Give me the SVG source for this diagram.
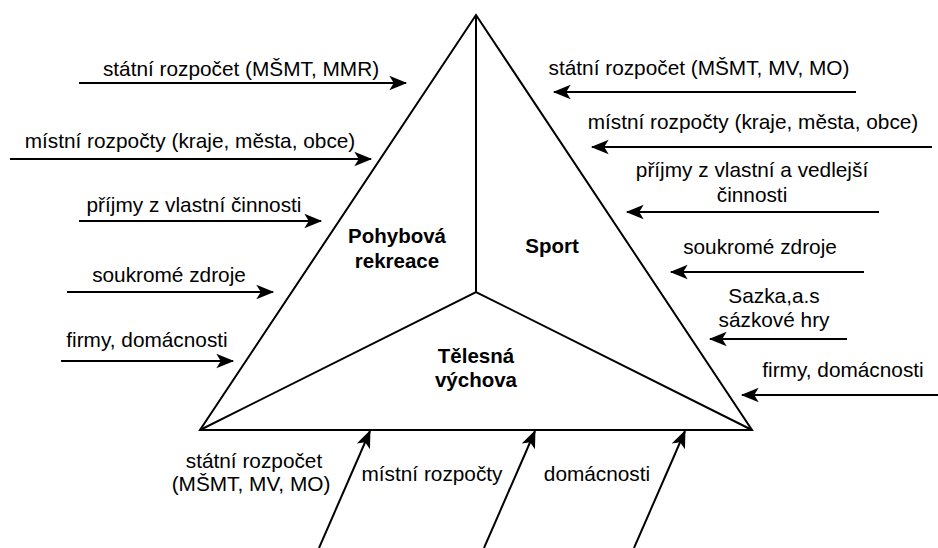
<svg xmlns="http://www.w3.org/2000/svg" width="938" height="548" viewBox="0 0 938 548">
<style>
.t{font-family:"Liberation Sans",Arial,Helvetica,sans-serif;font-size:20.8px;fill:#000;text-anchor:middle}
.b{font-weight:bold;font-size:20.5px}
.ln{stroke:#000;stroke-width:2;fill:none}
.ar{stroke:#000;stroke-width:2;fill:none;marker-end:url(#ah)}
</style>
<defs>
<marker id="ah" markerUnits="userSpaceOnUse" markerWidth="20" markerHeight="20" viewBox="-16 -8 18 16" refX="0" refY="0" orient="auto">
<path d="M1,0 L-15,-6.5 L-11,0 L-15,6.5 Z" fill="#000" stroke="none"/>
</marker>
</defs>
<g id="triangle">
<path class="ln" d="M476,15 L752,430 L200,430 Z" stroke-linejoin="miter"/>
<path class="ln" d="M476,15 L476,292 M200,430 L476,292 L752,430"/>
</g>
<g id="node-pohybova">
<text class="t b" x="397" y="243">Pohybová</text>
<text class="t b" x="397" y="268">rekreace</text>
</g>
<g id="node-sport">
<text class="t b" x="552" y="253">Sport</text>
</g>
<g id="node-telesna">
<text class="t b" x="476" y="363">Tělesná</text>
<text class="t b" x="476" y="387">výchova</text>
</g>
<g id="connectors">
<line class="ar" x1="79" y1="83" x2="406" y2="83"/>
<line class="ar" x1="10" y1="159" x2="371" y2="159"/>
<line class="ar" x1="79" y1="221" x2="321" y2="221"/>
<line class="ar" x1="67" y1="292" x2="273" y2="292"/>
<line class="ar" x1="61" y1="361" x2="233" y2="361"/>
<line class="ar" x1="856" y1="92" x2="554" y2="92"/>
<line class="ar" x1="932" y1="147" x2="592" y2="147"/>
<line class="ar" x1="879" y1="212" x2="627" y2="212"/>
<line class="ar" x1="864" y1="272" x2="671" y2="272"/>
<line class="ar" x1="847" y1="339" x2="710" y2="339"/>
<line class="ar" x1="938" y1="395" x2="742" y2="395"/>
<line class="ar" x1="319" y1="548" x2="370" y2="431"/>
<line class="ar" x1="484" y1="548" x2="535" y2="431"/>
<line class="ar" x1="634" y1="548" x2="685" y2="431"/>
</g>
<g id="labels">
<text class="t" x="241" y="76">státní rozpočet (MŠMT, MMR)</text>
<text class="t" x="190" y="148">místní rozpočty (kraje, města, obce)</text>
<text class="t" x="194" y="212">příjmy z vlastní činnosti</text>
<text class="t" x="169" y="282">soukromé zdroje</text>
<text class="t" x="147" y="347">firmy, domácnosti</text>
<text class="t" x="699" y="75">státní rozpočet (MŠMT, MV, MO)</text>
<text class="t" x="753" y="129">místní rozpočty (kraje, města, obce)</text>
<text class="t" x="752" y="177">příjmy z vlastní a vedlejší</text>
<text class="t" x="752" y="202">činnosti</text>
<text class="t" x="760" y="254">soukromé zdroje</text>
<text class="t" x="774" y="303">Sazka,a.s</text>
<text class="t" x="774" y="327">sázkové hry</text>
<text class="t" x="843" y="377">firmy, domácnosti</text>
<text class="t" x="254" y="468">státní rozpočet</text>
<text class="t" x="251" y="491">(MŠMT, MV, MO)</text>
<text class="t" x="432" y="481">místní rozpočty</text>
<text class="t" x="597" y="481">domácnosti</text>
</g>
</svg>
